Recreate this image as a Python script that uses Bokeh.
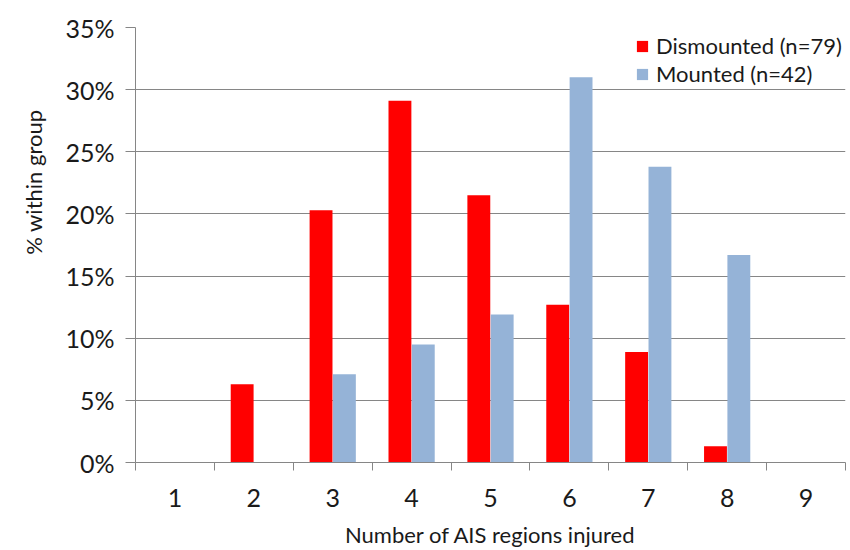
import math
from bokeh.plotting import figure
from bokeh.models import ColumnDataSource, FixedTicker, Range1d, Title, Legend, LegendItem
from bokeh.transform import dodge
from bokeh.embed import file_html
from bokeh.resources import INLINE

categories = [1, 2, 3, 4, 5, 6, 7, 8, 9]
dismounted = [0.0, 6.3, 20.3, 29.1, 21.5, 12.7, 8.9, 1.3, 0.0]
mounted = [0.0, 0.0, 7.1, 9.5, 11.9, 31.0, 23.8, 16.7, 0.0]
y_ticks = [0, 5, 10, 15, 20, 25, 30, 35]
y_tick_labels = {t: f"{t}%" for t in y_ticks}

FONT = "Lato"
TXT = "#1a1a1a"
src = ColumnDataSource(dict(x=categories, d=dismounted, m=mounted))

p = figure(width=850, height=550, output_backend="svg", toolbar_location=None,
           x_range=Range1d(0.5, 9.5), y_range=Range1d(0, 35),
           min_border_left=135, min_border_right=5, min_border_top=27, min_border_bottom=86)
p.outline_line_color = None

r1 = p.vbar(x=dodge("x", -0.148, range=p.x_range), top="d", width=0.29, source=src,
            fill_color="#FF0000", line_color=None)
r2 = p.vbar(x=dodge("x", 0.148, range=p.x_range), top="m", width=0.29, source=src,
            fill_color="#95B3D7", line_color=None)

# x axis
p.xaxis.ticker = FixedTicker(ticks=categories, minor_ticks=[c - 0.5 for c in categories] + [9.5])
p.xaxis.major_tick_line_color = None
p.xaxis.minor_tick_out = 8
p.xaxis.minor_tick_in = 0
p.xaxis.minor_tick_line_color = "#868686"
p.xaxis.axis_line_color = "#868686"
p.xaxis.major_label_text_font = FONT
p.xaxis.major_label_text_font_size = "25px"
p.xaxis.major_label_text_color = TXT
p.xaxis.major_label_standoff = 18
p.xaxis.axis_label = "Number of AIS regions injured"
p.xaxis.axis_label_text_font = FONT
p.xaxis.axis_label_text_font_size = "22px"
p.xaxis.axis_label_text_font_style = "normal"
p.xaxis.axis_label_text_color = TXT
p.xaxis.axis_label_standoff = 11
p.xgrid.grid_line_color = None

# y axis
p.yaxis.ticker = FixedTicker(ticks=y_ticks, minor_ticks=[])
p.yaxis.major_label_overrides = y_tick_labels
p.yaxis.major_tick_out = 10
p.yaxis.major_tick_in = 0
p.yaxis.major_tick_line_color = "#868686"
p.yaxis.axis_line_color = "#868686"
p.yaxis.major_label_text_font = FONT
p.yaxis.major_label_text_font_size = "25px"
p.yaxis.major_label_text_color = TXT
p.yaxis.major_label_standoff = 11
p.ygrid.grid_line_color = "#868686"
p.ygrid.grid_line_width = 1

ytitle = Title(text="% within group", align="right", offset=82, standoff=32,
               text_font=FONT, text_font_size="22px", text_font_style="normal",
               text_color=TXT)
p.add_layout(ytitle, "left")

legend = Legend(items=[LegendItem(label="Dismounted (n=79)", renderers=[r1]),
                       LegendItem(label="Mounted (n=42)", renderers=[r2])],
                location=(500, 375), border_line_color=None, background_fill_alpha=0,
                label_text_font=FONT, label_text_font_size="22px", label_text_color=TXT,
                glyph_width=14, glyph_height=14, label_height=20, spacing=1,
                padding=0, margin=0, label_standoff=7)
p.add_layout(legend)

open("out.html", "w").write(file_html(p, INLINE))
